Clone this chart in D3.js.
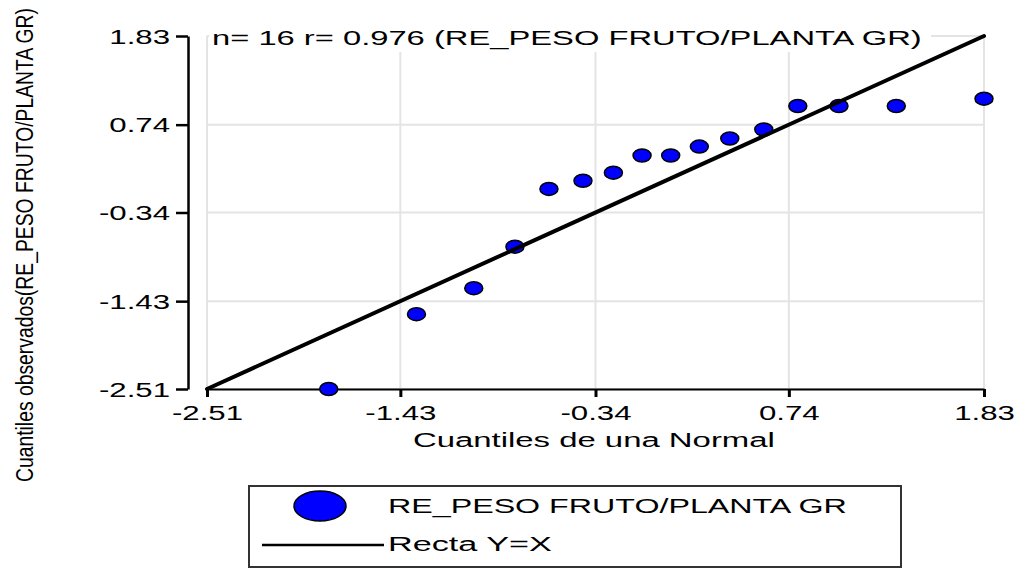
<!DOCTYPE html>
<html>
<head>
<meta charset="utf-8">
<script src="https://cdn.jsdelivr.net/npm/d3@7"></script>
<style>
  html, body { margin: 0; padding: 0; background: #ffffff; }
  svg { display: block; }
  text { font-family: "Liberation Sans", Arial, sans-serif; fill: #000; }
</style>
</head>
<body>
<svg id="chart" width="1030" height="568"></svg>
<script>
// Normal Q-Q plot data: theoretical normal quantiles vs observed residual quantiles
const theoretical = [-1.83, -1.34, -1.02, -0.79, -0.60, -0.41, -0.24, -0.08,
                      0.08,  0.24,  0.41,  0.60,  0.79,  1.02,  1.34,  1.83];
const observed    = [-2.51, -1.59, -1.27, -0.76, -0.05,  0.05,  0.15,  0.36,
                      0.36,  0.47,  0.57,  0.68,  0.97,  0.97,  0.97,  1.06];
const tickValues  = [-2.51, -1.43, -0.34, 0.74, 1.83];
const axisDomain  = [-2.51, 1.83];

const titleText   = "n= 16 r= 0.976 (RE_PESO FRUTO/PLANTA GR)";
const xLabelText  = "Cuantiles de una Normal";
const yLabelText  = "Cuantiles observados(RE_PESO FRUTO/PLANTA GR)";
const seriesName  = "RE_PESO FRUTO/PLANTA GR";
const lineName    = "Recta Y=X";

const svg = d3.select("#chart");
svg.append("rect").attr("width", 1030).attr("height", 568).attr("fill", "#fff");

const x = d3.scaleLinear().domain(axisDomain).range([207, 984]);
const y = d3.scaleLinear().domain(axisDomain).range([389, 36]);

const SX = 1.56; // horizontal stretch of the lettering

// Fit a text element horizontally to a given width
function fitWidth(sel, width, x0, y0) {
  const w = sel.node().getComputedTextLength();
  const s = width / w;
  sel.attr("transform", `translate(${x0},${y0}) scale(${s},1)`);
  return sel;
}

// Gridlines
const grid = svg.append("g").attr("stroke", "#e4e4e4").attr("stroke-width", 2);
grid.selectAll("line.v").data(tickValues).join("line")
  .attr("x1", d => x(d)).attr("x2", d => x(d))
  .attr("y1", y.range()[1]).attr("y2", y.range()[0]);
grid.selectAll("line.h").data(tickValues).join("line")
  .attr("x1", x.range()[0]).attr("x2", x.range()[1])
  .attr("y1", d => y(d)).attr("y2", d => y(d));

// Title with white backing
svg.append("rect").attr("x", 209).attr("y", 19).attr("width", 722).attr("height", 33).attr("fill", "#fff");
const title = svg.append("text").attr("font-size", 21).text(titleText);
fitWidth(title, 710, 212, 45);

// Y axis (offset left of plot)
const yAxis = svg.append("g")
  .attr("transform", "translate(188,0)")
  .call(d3.axisLeft(y).tickValues(tickValues).tickSize(12).tickSizeOuter(0)
        .tickFormat(d => d.toFixed(2)));
yAxis.select(".domain").attr("stroke", "#000").attr("stroke-width", 2.5);
yAxis.selectAll(".tick line").attr("stroke", "#000").attr("stroke-width", 2.5);
yAxis.selectAll(".tick text")
  .attr("x", null).attr("dy", null).attr("font-size", 20).attr("font-family", null)
  .attr("text-anchor", "end")
  .attr("transform", `translate(-18,7) scale(${SX},1)`);

// X axis
const xAxis = svg.append("g")
  .attr("transform", "translate(0,389)")
  .call(d3.axisBottom(x).tickValues(tickValues).tickSize(8).tickSizeOuter(0)
        .tickFormat(d => d.toFixed(2)));
xAxis.select(".domain").attr("stroke", "#000").attr("stroke-width", 2);
xAxis.selectAll(".tick line").attr("stroke", "#000").attr("stroke-width", 3);
xAxis.selectAll(".tick text")
  .attr("y", null).attr("dy", null).attr("font-size", 20).attr("font-family", null)
  .attr("text-anchor", "middle")
  .attr("transform", `translate(0,31) scale(${SX},1)`);

// Points
svg.append("g").selectAll("ellipse").data(theoretical).join("ellipse")
  .attr("cx", d => x(d))
  .attr("cy", (d, i) => y(observed[i]))
  .attr("rx", 9).attr("ry", 6.5)
  .attr("fill", "#0000ff").attr("stroke", "#000").attr("stroke-width", 1.5);

// Reference line Y = X
svg.append("line")
  .attr("x1", x(axisDomain[0])).attr("y1", y(axisDomain[0]))
  .attr("x2", x(axisDomain[1])).attr("y2", y(axisDomain[1]))
  .attr("stroke", "#000").attr("stroke-width", 4).attr("stroke-linecap", "round");

// Axis titles
const xl = svg.append("text").attr("font-size", 21).text(xLabelText);
fitWidth(xl, 362, 413, 447);

// Vertical title: condensed along its length, thickened across
svg.append("text")
  .attr("font-size", 19)
  .attr("transform", "translate(33,482) scale(1.25,1) rotate(-90)")
  .attr("textLength", 474).attr("lengthAdjust", "spacingAndGlyphs")
  .text(yLabelText);

// Legend
const lg = svg.append("g");
lg.append("rect").attr("x", 249).attr("y", 486).attr("width", 652).attr("height", 81)
  .attr("fill", "#fff").attr("stroke", "#333").attr("stroke-width", 2);
lg.append("ellipse").attr("cx", 320).attr("cy", 506).attr("rx", 26).attr("ry", 15)
  .attr("fill", "#0000ff").attr("stroke", "#000").attr("stroke-width", 1.5);
const t1 = lg.append("text").attr("font-size", 21).text(seriesName);
fitWidth(t1, 459, 388, 513);
lg.append("line").attr("x1", 262).attr("x2", 384).attr("y1", 545).attr("y2", 545)
  .attr("stroke", "#000").attr("stroke-width", 2.5);
const t2 = lg.append("text").attr("font-size", 21).text(lineName);
fitWidth(t2, 164, 388, 551);
</script>
</body>
</html>
